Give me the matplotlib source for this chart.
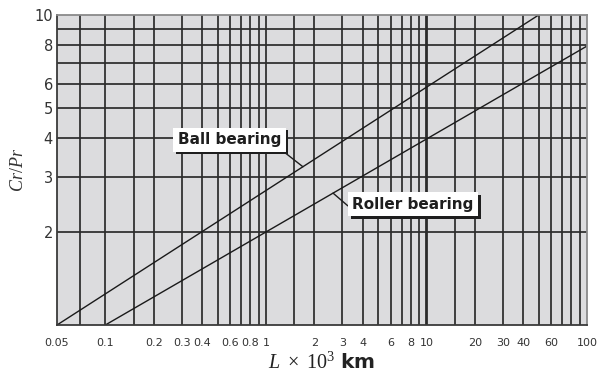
import numpy as np
import matplotlib
matplotlib.use("Agg")
import matplotlib.pyplot as plt
from matplotlib import patheffects

# Life L (x10^3 km) vs. load ratio Cr/Pr, end points of each straight log-log line
ball_L = [0.05, 50]
ball_ratio = [1.0, 10.0]
roller_L = [0.1, 100]
roller_ratio = [1.0, 7.94]

# tick labels on each axis
x_labels = [0.05, 0.1, 0.2, 0.3, 0.4, 0.6, 0.8, 1, 2, 3, 4, 6, 8, 10, 20, 30, 40, 60, 100]
x_label_text = ["0.05", "0.1", "0.2", "0.3", "0.4", "0.6", "0.8", "1", "2", "3", "4",
                "6", "8", "10", "20", "30", "40", "60", "100"]
y_labels = [2, 3, 4, 5, 6, 8, 10]

# grid lines of the chart paper
grid_x = [0.07, 0.1, 0.15, 0.2, 0.3, 0.4, 0.5, 0.6, 0.7, 0.8, 0.9,
          1, 1.5, 2, 3, 4, 5, 6, 7, 8, 9,
          10, 15, 20, 30, 40, 50, 60, 70, 80, 90]
grid_y = [2, 3, 4, 5, 6, 7, 8, 9]

plt.rcParams["mathtext.fontset"] = "custom"
plt.rcParams["mathtext.rm"] = "Liberation Serif"
plt.rcParams["mathtext.it"] = "Liberation Serif:italic"
plt.rcParams["mathtext.bf"] = "DejaVu Sans:bold"

fig = plt.figure(figsize=(6.01, 3.78), dpi=100)
ax = fig.add_axes([57 / 601, 53 / 378, 530 / 601, 310 / 378])
ax.set_facecolor("#dcdcde")
ax.set_xscale("log")
ax.set_yscale("log")
ax.set_xlim(0.05, 100)
ax.set_ylim(1, 10)

grid_color = "#2b2b2b"
for gx in grid_x:
    ax.axvline(gx, color=grid_color, lw=2.0 if gx == 10 else 1.25, zorder=1)
for gy in grid_y:
    ax.axhline(gy, color=grid_color, lw=1.25, zorder=1)

ax.plot(ball_L, ball_ratio, color="#1a1a1a", lw=1.0, zorder=2)
ax.plot(roller_L, roller_ratio, color="#1a1a1a", lw=1.0, zorder=2)

ax.xaxis.set_minor_locator(matplotlib.ticker.NullLocator())
ax.yaxis.set_minor_locator(matplotlib.ticker.NullLocator())
ax.set_xticks(x_labels)
ax.set_xticklabels(x_label_text)
ax.set_yticks(y_labels)
ax.set_yticklabels([str(v) for v in y_labels])
ax.tick_params(axis="x", length=0, pad=9, labelsize=8, colors="#333333")
ax.tick_params(axis="y", length=0, pad=3, labelsize=10.5, colors="#333333")

for side in ("left", "bottom"):
    ax.spines[side].set_color("#3a3a3a")
    ax.spines[side].set_linewidth(1.3)
for side in ("top", "right"):
    ax.spines[side].set_color("#8a8a8a")
    ax.spines[side].set_linewidth(1.3)

ax.set_ylabel(r"$Cr/Pr$", fontsize=13, color="#333333", labelpad=5)
ax.set_xlabel(r"$L\ \times\ \mathit{10}^{\mathit{3}}$ $\mathbf{km}$", fontsize=14.5,
              color="#222222", labelpad=3)


def point_on(xs, ys, x):
    lx = np.log10(xs)
    ly = np.log10(ys)
    return x, 10 ** np.interp(np.log10(x), lx, ly)


shadow = [patheffects.SimplePatchShadow(offset=(2, -2), shadow_rgbFace="#1e1e1e", alpha=1.0),
          patheffects.Normal()]

bx, by = point_on(ball_L, ball_ratio, 1.7)
t1 = ax.annotate("Ball bearing", xy=(bx, by), xytext=(0.325, 0.598),
                 textcoords="axes fraction", ha="center", va="center",
                 fontsize=11, fontweight="bold", color="#1e1e1e",
                 bbox=dict(boxstyle="square,pad=0.3", fc="white", ec="none"),
                 arrowprops=dict(arrowstyle="-", color="#1e1e1e", lw=1.0,
                                 relpos=(0.97, 0.0), shrinkA=0, shrinkB=0),
                 zorder=5)
t1.get_bbox_patch().set_path_effects(shadow)

rx, ry = point_on(roller_L, roller_ratio, 2.62)
t2 = ax.annotate("Roller bearing", xy=(rx, ry), xytext=(0.672, 0.39),
                 textcoords="axes fraction", ha="center", va="center",
                 fontsize=11, fontweight="bold", color="#1e1e1e",
                 bbox=dict(boxstyle="square,pad=0.3", fc="white", ec="none"),
                 arrowprops=dict(arrowstyle="-", color="#1e1e1e", lw=1.0,
                                 relpos=(0.0, 0.12), shrinkA=0, shrinkB=0),
                 zorder=5)
t2.get_bbox_patch().set_path_effects(shadow)

fig.savefig("out.png", dpi=100, facecolor="white")
